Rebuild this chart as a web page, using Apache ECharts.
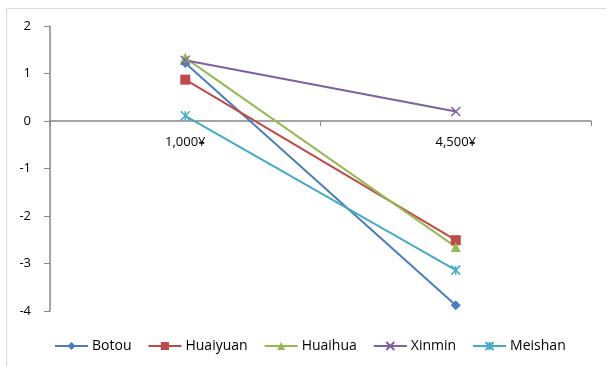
<!DOCTYPE html>
<html>
<head>
<meta charset="utf-8">
<script src="https://cdn.jsdelivr.net/npm/echarts@6/dist/echarts.min.js"></script>
<style>html,body{margin:0;padding:0;background:#fff;}#c{width:606px;height:367px;}</style>
</head>
<body>
<div id="c"></div>
<script>
var categories = ['1,000¥', '4,500¥'];
var botou = [1.22, -3.88];
var huaiyuan = [0.87, -2.51];
var huaihua = [1.33, -2.65];
var xinmin = [1.28, 0.2];
var meishan = [0.11, -3.14];
var yTicks = { min: -4, max: 2, interval: 1 };

var FONT = '"Open Sans", "Noto Sans", sans-serif';
var chart = echarts.init(document.getElementById('c'));
function s(name, data, color, symbol, size, hollow) {
  return {
    name: name, type: 'line', data: data, symbol: symbol, symbolSize: size,
    lineStyle: { color: color, width: 2 },
    itemStyle: hollow ? { color: 'rgba(0,0,0,0)', borderColor: color, borderWidth: 1.5 } : { color: color, borderWidth: 0 },
    emphasis: { disabled: true }, animation: false
  };
}
var gridTop = 26, gridBottom = 56, H = 367;
var plotH = H - gridTop - gridBottom;
var zeroOffset = plotH * (0 - yTicks.min) / (yTicks.max - yTicks.min);
chart.setOption({
  animation: false,
  graphic: [{ type: 'rect', shape: { x: 6.5, y: 8.5, width: 700, height: 500 }, style: { fill: 'none', stroke: '#d9d9d9', lineWidth: 1 } }],
  grid: { left: 50, right: 15, top: gridTop, bottom: gridBottom, containLabel: false },
  legend: {
    bottom: 14, left: 54, padding: 0, itemWidth: 33, itemHeight: 10, itemGap: 16,
    textStyle: { fontFamily: FONT, fontSize: 14, color: '#000', padding: [0, 0, 0, -1] },
    data: ['Botou', 'Huaiyuan', 'Huaihua', 'Xinmin', 'Meishan']
  },
  xAxis: {
    type: 'category', data: categories, boundaryGap: true, position: 'bottom',
    offset: -zeroOffset,
    axisLine: { onZero: false, lineStyle: { color: '#868686', width: 1.5 } },
    axisTick: { show: true, length: 5, alignWithLabel: false, lineStyle: { color: '#868686' } },
    axisLabel: { margin: 15, fontFamily: FONT, fontSize: 13, color: '#000' },
    splitLine: { show: false }
  },
  yAxis: {
    type: 'value', min: yTicks.min, max: yTicks.max, interval: yTicks.interval,
    axisLine: { show: true, lineStyle: { color: '#868686', width: 1.5 } },
    axisTick: { show: true, length: 6, lineStyle: { color: '#868686' } },
    axisLabel: { margin: 19, fontFamily: FONT, fontSize: 13, color: '#000' },
    splitLine: { show: false }
  },
  series: [
    s('Botou', botou, '#4a7ebb', 'diamond', 10, false),
    s('Huaiyuan', huaiyuan, '#be4b48', 'rect', 10, false),
    s('Huaihua', huaihua, '#98b954', 'triangle', 10, false),
    s('Xinmin', xinmin, '#7d60a0', 'path://M0,0L10,10M10,0L0,10', 9, true),
    s('Meishan', meishan, '#46aac5', 'path://M0,0L10,10M10,0L0,10M5,0L5,10', 9, true)
  ]
});
</script>
</body>
</html>
